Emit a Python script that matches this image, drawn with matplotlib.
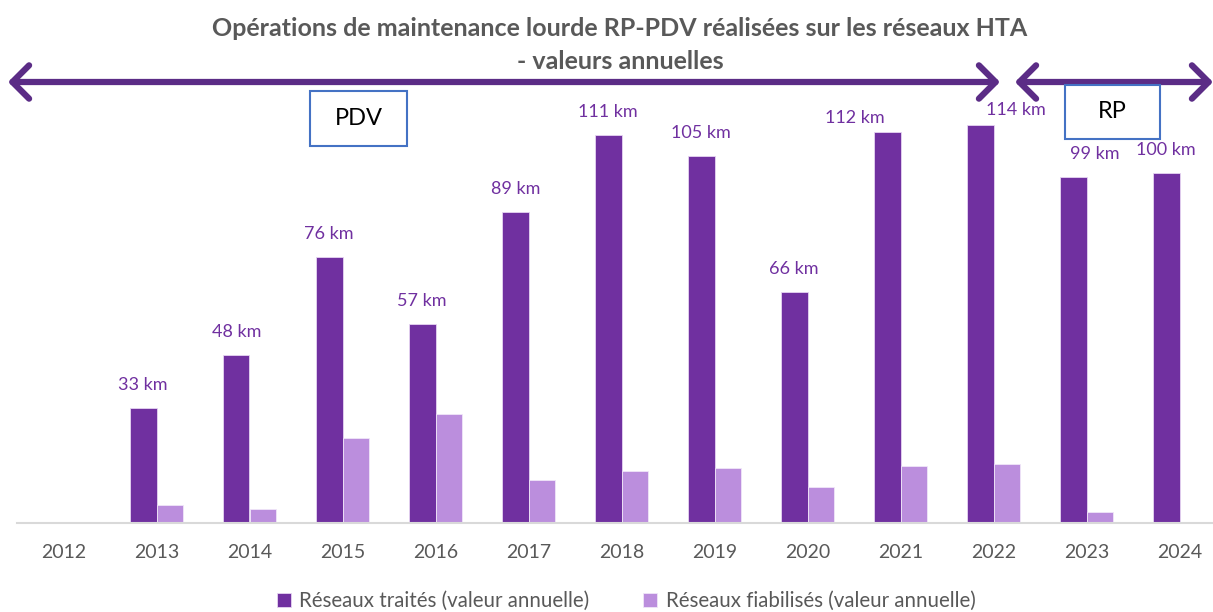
import numpy as np
import matplotlib
matplotlib.use("Agg")
from matplotlib import pyplot as plt
from matplotlib.patches import Rectangle, FancyArrowPatch

# data
years = ["2012", "2013", "2014", "2015", "2016", "2017", "2018",
         "2019", "2020", "2021", "2022", "2023", "2024"]
traites = [0, 33, 48, 76, 57, 89, 111, 105, 66, 112, 114, 99, 100]
fiabilises = [0, 5.2, 4.0, 24.3, 31.2, 12.3, 14.9, 15.7, 10.3, 16.3, 16.9, 3.1, 0]
labels = ["", "33 km", "48 km", "76 km", "57 km", "89 km", "111 km",
          "105 km", "66 km", "112 km", "114 km", "99 km", "100 km"]
serie_names = ["Réseaux traités (valeur annuelle)",
               "Réseaux fiabilisés (valeur annuelle)"]
title = "Opérations de maintenance lourde RP-PDV réalisées sur les réseaux HTA\n- valeurs annuelles"

DARK = "#7030A0"
LIGHT = "#BB8EDD"
GREY = "#595959"
ARROW = "#5B2C86"

plt.rcParams["font.family"] = ["Lato", "DejaVu Sans"]

W, H = 1213, 612
fig = plt.figure(figsize=(W / 100, H / 100), dpi=100)

# axes placed in pixels: baseline at y=523, 3.495 px per km
base_y = 523
px_per_km = 3.495
ymax = 130
ax = fig.add_axes([17 / W, (H - base_y) / H, (W - 17) / W, ymax * px_per_km / H])

x = np.arange(len(years))
bw = 0.285
ax.bar(x - bw / 2, traites, bw, color=DARK, edgecolor="#E6D5F2", linewidth=0.6,
       label=serie_names[0])
ax.bar(x + bw / 2, fiabilises, bw, color=LIGHT, edgecolor="#F0E6F8", linewidth=0.6,
       label=serie_names[1])

# data labels: (dx px, height px above bar top); some moved like in the source
offsets = {9: (-32, 14), 10: (36, 15), 11: (22, 23)}
for i, (v, lab) in enumerate(zip(traites, labels)):
    if not lab:
        continue
    dx, dy = offsets.get(i, (0, 23))
    ax.annotate(lab, (x[i] - bw / 2, v), xytext=(dx * 0.72, dy * 0.72),
                textcoords="offset points", ha="center", va="center",
                color=DARK, fontsize=13)

ax.set_xlim(-0.5, -0.5 + (W - 17) / 93)
ax.set_ylim(0, ymax)
ax.set_xticks(x)
ax.set_xticklabels(years, fontsize=14, color=GREY)
ax.tick_params(axis="x", length=0, pad=15)
ax.set_yticks([])
for s in ["top", "right", "left"]:
    ax.spines[s].set_visible(False)
ax.spines["bottom"].set_color("#D9D9D9")
ax.spines["bottom"].set_linewidth(1.5)

fig.text(620 / W, 1 - 45 / H, title, ha="center", va="center", fontsize=18,
         fontweight="bold", color=GREY, linespacing=1.5)


def fpos(px, py):
    return (px / W, 1 - py / H)


# period arrows
for x0, x1 in [(8, 1000), (1015, 1213)]:
    fig.patches.append(FancyArrowPatch(
        fpos(x0, 82), fpos(x1, 82), transform=fig.transFigure,
        arrowstyle="<->,head_length=1.2,head_width=1.2", mutation_scale=10,
        color=ARROW, linewidth=4.5, capstyle="round", joinstyle="round",
        shrinkA=0, shrinkB=0))

# period boxes
for (bx0, by0, bx1, by1, txt) in [(310, 91, 407, 146, "PDV"), (1065, 85, 1160, 139, "RP")]:
    fig.patches.append(Rectangle(fpos(bx0, by1), (bx1 - bx0) / W, (by1 - by0) / H,
                                 transform=fig.transFigure, facecolor="white",
                                 edgecolor="#4472C4", linewidth=1.5, zorder=3))
    fig.text((bx0 + bx1) / 2 / W, 1 - (by0 + by1) / 2 / H, txt, ha="center",
             va="center", fontsize=17, color="black", zorder=4)

fig.legend(loc="center", bbox_to_anchor=(626 / W, 1 - 601 / H), ncol=2,
           frameon=False, fontsize=14.8, labelcolor=GREY, handlelength=0.7,
           handleheight=0.7, handletextpad=0.4, columnspacing=2.6)

fig.savefig("out.png", dpi=100)
